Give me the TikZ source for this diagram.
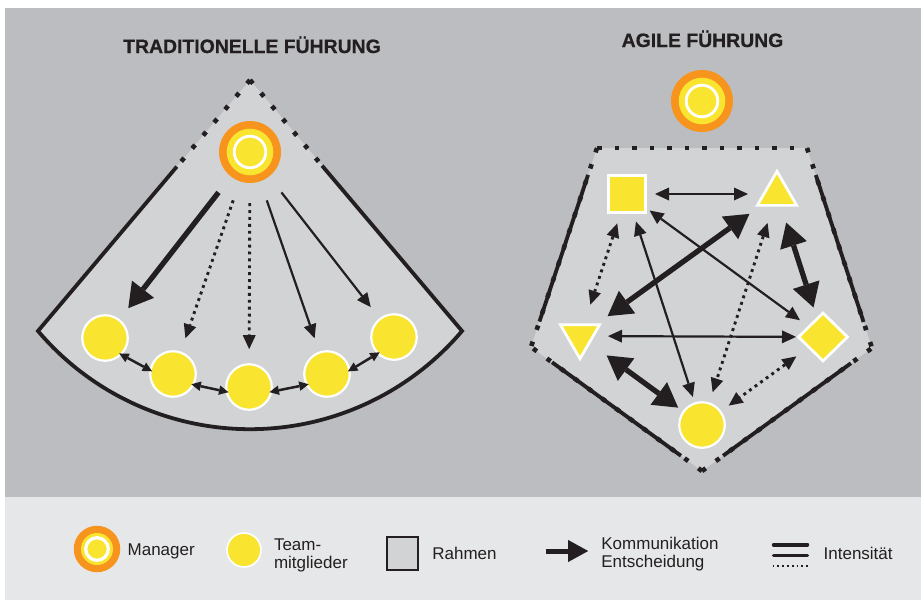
\documentclass[tikz,border=0pt]{standalone}
\usepackage{fontspec}
\setmainfont{Liberation Sans}
\newfontfamily\headfont{Liberation Sans}[BoldFeatures={FakeBold=0.6}]
\usetikzlibrary{positioning,arrows.meta,calc,shapes.geometric}

\definecolor{bggray}{RGB}{188,189,193}
\definecolor{framegray}{RGB}{209,211,212}
\definecolor{keygray}{RGB}{230,231,232}
\definecolor{teamyellow}{RGB}{249,229,47}
\definecolor{mgrorange}{RGB}{247,148,30}
\definecolor{ink}{RGB}{35,31,32}

% rings inside the manager disc
\newcommand{\mgrrings}[3]{%
  \fill[teamyellow] (path picture bounding box.center) circle (#1);
  \draw[white, line width=#3, fill=teamyellow] (path picture bounding box.center) circle (#2);
}

\begin{document}
\begin{tikzpicture}[
  x=1pt, y=-1pt,
  font=\fontsize{17}{18}\selectfont,
  bigtip/.tip={Triangle[length=24pt,width=28pt,line width=0pt]},
  thintip/.tip={Triangle[length=14pt,width=13pt,line width=0pt]},
  peertip/.tip={Triangle[length=9.5pt,width=9.5pt,line width=0pt]},
  keytip/.tip={Triangle[length=20pt,width=22pt,line width=0pt]},
  heading/.style={font=\headfont\bfseries\fontsize{19.4}{20}\selectfont, text=ink, anchor=base},
  lbl/.style={inner sep=0pt, text=ink, align=left},
  manager/.style={circle, fill=mgrorange, inner sep=0pt, minimum size=62pt, path picture={\mgrrings{23.3pt}{15.8pt}{2.8pt}}},
  keymanager/.style={circle, fill=mgrorange, inner sep=0pt, minimum size=46.5pt, path picture={\mgrrings{16pt}{11.3pt}{3.2pt}}},
  member/.style={circle, fill=teamyellow, draw=white, line width=2.2pt, inner sep=0pt, minimum size=45.5pt},
  sqmember/.style={rectangle, fill=teamyellow, draw=white, line width=2.7pt, inner sep=0pt, minimum size=37.3pt},
  trimember/.style={regular polygon, regular polygon sides=3, fill=teamyellow, draw=white, line width=2.7pt, inner sep=0pt, minimum size=45.4pt},
  dtrimember/.style={trimember, shape border rotate=180},
  diamember/.style={diamond, fill=teamyellow, draw=white, line width=2.7pt, inner sep=0pt, minimum width=50pt, minimum height=49pt},
  keyframe/.style={rectangle, fill=framegray, draw=ink, line width=2.3pt, inner sep=0pt, minimum width=31pt, minimum height=33pt},
  frameline/.style={draw=ink, line width=3.8pt},
  framedots/.style={draw=ink, line width=4.6pt, dash pattern=on 4.6pt off #1},
  framedots/.default=12.4pt,
  biglink/.style={draw=ink, line width=5.3pt},
  thinlink/.style={draw=ink, line width=2.2pt},
  dotlink/.style={draw=ink, line width=2.9pt, dash pattern=on 2.9pt off 4pt},
  peerlink/.style={draw=ink, line width=2.5pt, peertip-peertip, shorten <=-3pt, shorten >=-3pt},
  fromtop/.style={shorten <=20pt, shorten >=14pt},
  gap/.style 2 args={shorten <=#1, shorten >=#2},
]

\useasboundingbox (0,0) rectangle (921,600);

% background and key band
\fill[white] (0,0) rectangle (921,600);
\fill[bggray] (5,8) rectangle (921,497);
\fill[keygray] (5,497) rectangle (921,600);

% headings
\node[heading] (tradhead) at (252,53) {TRADITIONELLE FÜHRUNG};
\node[heading] (agilehead) at (702.5,47) {AGILE FÜHRUNG};

% traditional frame (wedge)
\coordinate (apex) at (250,80);
\coordinate (wedgeL) at (38,331);
\coordinate (wedgeR) at (462,332);
\fill[framegray] (apex) -- (wedgeL) arc[start angle=139.7, end angle=40.3, radius=278] -- cycle;
\draw[frameline] ($(apex)!0.345!(wedgeL)$) -- (wedgeL) arc[start angle=139.7, end angle=40.3, radius=278] -- ($(apex)!0.34!(wedgeR)$);
\draw[framedots] (apex) -- ($(apex)!0.345!(wedgeL)$);
\draw[framedots] (apex) -- ($(apex)!0.34!(wedgeR)$);

% traditional team
\node[manager] (tradmgr) at (250,152) {};
\node[member] (tm1) at (105,338) {};
\node[member] (tm2) at (173,374) {};
\node[member] (tm3) at (249,387) {};
\node[member] (tm4) at (327,374) {};
\node[member] (tm5) at (394,337) {};

\draw[biglink, -bigtip, fromtop] (tradmgr) -- (tm1);
\draw[dotlink, -thintip, fromtop] (tradmgr) -- (tm2);
\draw[dotlink, -thintip, fromtop] (tradmgr) -- (tm3);
\draw[thinlink, -thintip, fromtop] (tradmgr) -- (tm4);
\draw[thinlink, -thintip, fromtop] (tradmgr) -- (tm5);

\draw[peerlink] (tm1.-45) -- (tm2.170);
\draw[peerlink] (tm2.-27) -- (tm3.-169);
\draw[peerlink] (tm3.-11) -- (tm4.-153);
\draw[peerlink] (tm4.10) -- (tm5.-135);

% agile frame (pentagon)
\coordinate (pTL) at (597,148);
\coordinate (pTR) at (807,148);
\coordinate (pR) at (872,348);
\coordinate (pB) at (702,471);
\coordinate (pL) at (531,347);
\fill[framegray] (pTL) -- (pTR) -- (pR) -- (pB) -- (pL) -- cycle;
\draw[framedots=12.9pt] (pTL) -- (pTR);
\draw[framedots] (pTR) -- (pR);
\draw[framedots] (pTL) -- (pL);
\draw[framedots] (pB) -- (pL);
\draw[framedots] (pB) -- (pR);
\draw[frameline] ($(pTL)!0.135!(pL)$) -- ($(pTL)!0.872!(pL)$);
\draw[frameline] ($(pTR)!0.135!(pR)$) -- ($(pTR)!0.87!(pR)$);
\draw[frameline] ($(pL)!0.123!(pB)$) -- ($(pL)!0.877!(pB)$);
\draw[frameline] ($(pB)!0.124!(pR)$) -- ($(pB)!0.876!(pR)$);

% agile team
\node[manager] (agilemgr) at (702,101) {};
\node[sqmember] (sq) at (627,194) {};
\node[trimember] (tri) at (777,194) {};
\node[dtrimember] (dtri) at (580,336) {};
\node[diamember] (dia) at (823,337) {};
\node[member] (circ) at (702,425) {};

\draw[thinlink, thintip-thintip, gap={28pt}{29pt}] (sq.center) -- (tri.center);
\draw[thinlink, thintip-thintip, gap={28pt}{27pt}] (dtri.center) -- (dia.center);
\draw[thinlink, thintip-thintip, gap={28pt}{28.5pt}] (sq.center) -- (dia.center);
\draw[thinlink, thintip-thintip, gap={29pt}{29.5pt}] (sq.center) -- (circ.center);
\draw[dotlink, thintip-thintip, gap={31pt}{33pt}] (sq.center) -- (dtri.center);
\draw[dotlink, thintip-thintip, gap={30.5pt}{34.5pt}] (tri.center) -- (circ.center);
\draw[dotlink, thintip-thintip, gap={33pt}{33pt}] (dia.center) -- (circ.center);
\draw[biglink, bigtip-bigtip, gap={34pt}{34pt}] (tri.center) -- (dtri.center);
\draw[biglink, bigtip-bigtip, gap={30pt}{31pt}] (tri.center) -- (dia.center);
\draw[biglink, bigtip-bigtip, gap={33pt}{29.5pt}] (dtri.center) -- (circ.center);

% key
\node[keymanager] (keymgr) at (97,549) {};
\node[lbl, right=7pt of keymgr, yshift=-2.6pt] (keymgrtxt) {Manager};
\node[member, minimum size=34pt, line width=1.6pt] (keyteam) at (244,550) {};
\node[lbl, right=12pt of keyteam, yshift=-5.6pt] (keyteamtxt) {Team-\\mitglieder};
\node[keyframe] (keyrahmen) at (402.5,553.5) {};
\node[lbl, right=13pt of keyrahmen] (keyrahmentxt) {Rahmen};
\node[inner sep=0pt, minimum width=42pt] (keyarrow) at (567,551) {};
\draw[draw=ink, line width=5pt, -keytip] (keyarrow.west) -- (keyarrow.east);
\node[lbl, right=13pt of keyarrow, yshift=-2.6pt] (keyarrowtxt) {Kommunikation\\Entscheidung};
\node[inner sep=0pt, minimum width=33.5pt, minimum height=21pt] (keyint) at (790.5,555.5) {};
\draw[draw=ink, line width=3.5pt, line cap=round] (keyint.north west) -- (keyint.north east);
\draw[draw=ink, line width=3.5pt, line cap=round] (keyint.west) -- (keyint.east);
\draw[draw=ink, line width=1.8pt, dash pattern=on 1.8pt off 3pt] ([xshift=-1pt]keyint.south west) -- ([xshift=1pt]keyint.south east);
\node[lbl, right=16pt of keyint, yshift=1.7pt] (keyinttxt) {Intensität};

\end{tikzpicture}
\end{document}
